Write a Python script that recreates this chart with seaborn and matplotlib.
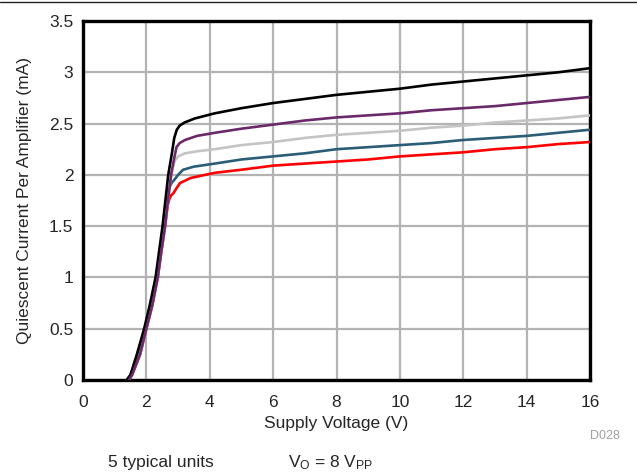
import matplotlib
matplotlib.use("Agg")
import matplotlib.pyplot as plt
import seaborn as sns
import pandas as pd
from matplotlib.lines import Line2D

# ---- data ----
black_x = [1.38, 1.5, 1.7, 1.93, 2.1, 2.29, 2.4, 2.51, 2.6, 2.69, 2.8, 2.88, 2.96, 3.05, 3.2, 3.53, 4.16,
           5, 6, 7, 8, 9, 10, 11, 12, 13, 14, 15, 16]
black_y = [0, 0.05, 0.25, 0.5, 0.72, 1.0, 1.25, 1.5, 1.75, 2.0, 2.2, 2.36, 2.44, 2.48, 2.51, 2.55, 2.60,
           2.65, 2.70, 2.74, 2.78, 2.81, 2.84, 2.88, 2.91, 2.94, 2.97, 3.00, 3.04]

purple_x = [1.45, 1.55, 1.8, 2.0, 2.18, 2.36, 2.47, 2.59, 2.68, 2.78, 2.87, 2.95, 3.05, 3.22, 3.6, 4.16,
            5, 6, 7, 8, 9, 10, 11, 12, 13, 14, 15, 16]
purple_y = [0, 0.05, 0.25, 0.5, 0.72, 1.0, 1.25, 1.5, 1.75, 2.0, 2.15, 2.27, 2.31, 2.34, 2.38, 2.41,
            2.45, 2.49, 2.53, 2.56, 2.58, 2.60, 2.63, 2.65, 2.67, 2.70, 2.73, 2.76]

gray_x = [1.45, 1.55, 1.8, 2.0, 2.18, 2.36, 2.47, 2.59, 2.68, 2.76, 2.83, 2.9, 3.0, 3.22, 3.6, 4.16,
          5, 6, 7, 8, 9, 10, 11, 12, 13, 14, 15, 16]
gray_y = [0, 0.05, 0.25, 0.5, 0.72, 1.0, 1.25, 1.5, 1.75, 1.95, 2.07, 2.14, 2.18, 2.21, 2.23, 2.25,
          2.29, 2.32, 2.36, 2.39, 2.41, 2.43, 2.46, 2.48, 2.51, 2.53, 2.55, 2.58]

teal_x = [1.38, 1.5, 1.72, 1.95, 2.12, 2.31, 2.43, 2.54, 2.63, 2.7, 2.76, 2.82, 2.88, 3.0, 3.16, 3.5, 4.16,
          5, 6, 7, 8, 9, 10, 11, 12, 13, 14, 15, 16]
teal_y = [0, 0.05, 0.25, 0.5, 0.72, 1.0, 1.25, 1.5, 1.75, 1.85, 1.9, 1.93, 1.95, 2.0, 2.05, 2.08, 2.11,
          2.15, 2.18, 2.21, 2.25, 2.27, 2.29, 2.31, 2.34, 2.36, 2.38, 2.41, 2.44]

red_x = [1.45, 1.55, 1.8, 2.0, 2.18, 2.36, 2.47, 2.59, 2.67, 2.72, 2.78, 2.85, 2.95, 3.06, 3.4, 4.16,
         5, 6, 7, 8, 9, 10, 11, 12, 13, 14, 15, 16]
red_y = [0, 0.05, 0.25, 0.5, 0.72, 1.0, 1.25, 1.5, 1.7, 1.76, 1.8, 1.82, 1.87, 1.92, 1.97, 2.02,
         2.05, 2.09, 2.11, 2.13, 2.15, 2.18, 2.20, 2.22, 2.25, 2.27, 2.30, 2.32]

series_names = ["red", "teal", "gray", "black", "purple"]
series_x = [red_x, teal_x, gray_x, black_x, purple_x]
series_y = [red_y, teal_y, gray_y, black_y, purple_y]
colors = {"red": "#ff0000", "teal": "#2b5d77", "gray": "#c4c4c4", "black": "#000000", "purple": "#6a2a6a"}

x_ticks = [0, 2, 4, 6, 8, 10, 12, 14, 16]
y_ticks = [0, 0.5, 1, 1.5, 2, 2.5, 3, 3.5]
y_tick_labels = ["0", "0.5", "1", "1.5", "2", "2.5", "3", "3.5"]

rows = []
for name, xs, ys in zip(series_names, series_x, series_y):
    for i, (xv, yv) in enumerate(zip(xs, ys)):
        rows.append({"unit": name, "order": i, "V": xv, "I": yv})
df = pd.DataFrame(rows)

sns.set_style("white")
plt.rcParams["font.family"] = ["Liberation Sans", "DejaVu Sans"]
plt.rcParams["mathtext.fontset"] = "custom"
plt.rcParams["mathtext.rm"] = "Liberation Sans"
plt.rcParams["mathtext.it"] = "Liberation Sans"

fig = plt.figure(figsize=(6.37, 4.76), dpi=100)
ax = fig.add_axes([83 / 637, 1 - 380 / 476, (590 - 83) / 637, (380 - 21) / 476])

for name in series_names:
    sub = df[df["unit"] == name]
    sns.lineplot(data=sub, x="V", y="I", color=colors[name], sort=False,
                 estimator=None, linewidth=1.9, ax=ax, legend=False, zorder=3)

ax.set_xlim(0, 16)
ax.set_ylim(0, 3.5)
ax.set_xticks(x_ticks)
ax.set_xticklabels([str(t) for t in x_ticks], fontsize=12.5)
ax.set_yticks(y_ticks)
ax.set_yticklabels(y_tick_labels, fontsize=12.5)
ax.tick_params(axis="x", length=0, pad=11)
ax.tick_params(axis="y", length=0, pad=7)
ax.grid(True, color="#b3b3b3", linewidth=1.6, zorder=0)
ax.set_axisbelow(True)
for s in ax.spines.values():
    s.set_visible(True)
    s.set_color("black")
    s.set_linewidth(2.4)

ax.set_xlabel("Supply Voltage (V)", fontsize=12.5, labelpad=4)
ax.set_ylabel("Quiescent Current Per Amplifier (mA)", fontsize=12.5, labelpad=12)

fig.add_artist(Line2D([0, 1], [1 - 2 / 476, 1 - 2 / 476], color="#222222", linewidth=1.0,
                      transform=fig.transFigure))
fig.text(605 / 637, 1 - 436 / 476, "D028", color="#a0a0a0", fontsize=9, ha="center", va="center")
fig.text(108 / 637, 1 - 463 / 476, "5 typical units", fontsize=12.5, ha="left", va="center")
fig.text(288 / 637, 1 - 463 / 476, r"V$_\mathrm{O}$ = 8 V$_\mathrm{PP}$", fontsize=12.5, ha="left", va="center")

fig.savefig("out.png", dpi=100)
